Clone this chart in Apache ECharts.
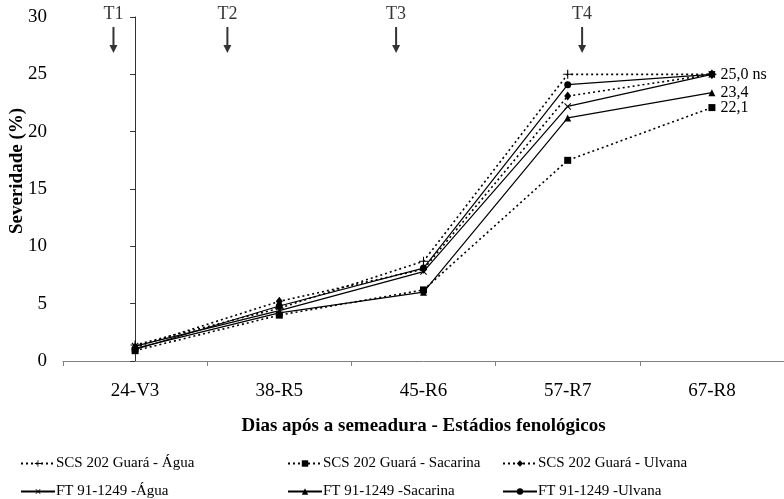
<!DOCTYPE html>
<html>
<head>
<meta charset="utf-8">
<script src="https://cdn.jsdelivr.net/npm/echarts@6/dist/echarts.min.js"></script>
<style>
  html, body { margin: 0; padding: 0; background: #fff; }
  #chart { width: 784px; height: 499px; }
</style>
</head>
<body>
<div id="chart"></div>
<script>
// Categories: days after sowing - phenological stage
const categories = ['24-V3', '38-R5', '45-R6', '57-R7', '67-R8'];

// Severity (%) per treatment
const scsAgua      = [1.4, 4.6, 8.7, 25.0, 25.0];
const scsSacarina  = [0.9, 4.0, 6.2, 17.5, 22.1];
const scsUlvana    = [1.2, 5.2, 8.0, 23.1, 25.0];
const ftAgua       = [1.3, 4.4, 7.8, 22.2, 25.0];
const ftSacarina   = [1.1, 4.2, 6.0, 21.2, 23.4];
const ftUlvana     = [1.0, 4.8, 8.1, 24.1, 25.0];

// Application times, as positions along the category axis
const applications = ['T1', 'T2', 'T3', 'T4'];
const applicationPos = [-0.15, 0.64, 1.81, 3.10];
const arrowLevel = 28;

const yTicks = [0, 5, 10, 15, 20, 25, 30];

const FONT = 'Liberation Serif, Times New Roman, serif';
const plusPath = 'path://M0,4.4 L4.4,4.4 L4.4,0 L5.6,0 L5.6,4.4 L10,4.4 L10,5.6 L5.6,5.6 L5.6,10 L4.4,10 L4.4,5.6 L0,5.6 Z';
const arrowPath = 'path://M3,0 L5,0 L5,18 L8,18 L4,26 L0,18 L3,18 Z';
const dotted = [2, 3];

function fmt(v) { return v.toFixed(1).replace('.', ','); }

function lineSeries(name, data, symbol, size, dashed, rotate, labelSuffix) {
  const s = {
    name: name,
    type: 'line',
    data: data,
    symbol: symbol,
    symbolSize: size,
    symbolRotate: rotate || 0,
    showAllSymbol: true,
    itemStyle: { color: '#000' },
    lineStyle: { color: '#000', width: dashed ? 1.6 : 1.2, type: dashed ? dotted : 'solid' },
    emphasis: { disabled: true },
    z: 3
  };
  if (labelSuffix !== undefined) {
    s.label = {
      show: true,
      position: 'right',
      distance: 5,
      fontFamily: FONT,
      fontSize: 16,
      color: '#000',
      formatter: function (p) {
        return p.dataIndex === data.length - 1 ? fmt(p.value) + labelSuffix : '';
      }
    };
  }
  return s;
}

const seriesDefs = [
  lineSeries('SCS 202 Guará - Água', scsAgua, plusPath, 9, true),
  lineSeries('SCS 202 Guará - Sacarina', scsSacarina, 'rect', 7, true, 0, ''),
  lineSeries('SCS 202 Guará - Ulvana', scsUlvana, 'diamond', [7, 9], true),
  lineSeries('FT 91-1249 -Água', ftAgua, plusPath, 9, false, 45),
  lineSeries('FT 91-1249 -Sacarina', ftSacarina, 'triangle', 7, false, 0, ''),
  lineSeries('FT 91-1249 -Ulvana', ftUlvana, 'circle', 7, false, 0, ' ns')
];

// Arrows marking the application times
seriesDefs.push({
  type: 'scatter',
  xAxisIndex: 1,
  data: applicationPos.map(function (x, i) { return [x, arrowLevel, applications[i]]; }),
  symbol: arrowPath,
  symbolSize: [8, 26],
  itemStyle: { color: '#000' },
  label: {
    show: true,
    position: 'top',
    distance: 4,
    fontFamily: FONT,
    fontSize: 18,
    color: '#000',
    formatter: function (p) { return p.value[2]; }
  },
  emphasis: { disabled: true },
  silent: true,
  z: 5
});

const legendLayout = [
  { left: 20, top: 456 },
  { left: 287, top: 456 },
  { left: 502, top: 456 },
  { left: 20, top: 484 },
  { left: 287, top: 484 },
  { left: 502, top: 484 }
];

const chart = echarts.init(document.getElementById('chart'), null, { renderer: 'canvas' });
chart.setOption({
  animation: false,
  backgroundColor: '#fff',
  textStyle: { fontFamily: FONT },
  grid: { left: 63, right: -2, top: 17, bottom: 138, containLabel: false },
  legend: seriesDefs.slice(0, 6).map(function (s, i) {
    return {
      data: [s.name],
      left: legendLayout[i].left,
      top: legendLayout[i].top,
      itemWidth: 34,
      itemHeight: 8,
      itemGap: 0,
      padding: 0,
      selectedMode: false,
      textStyle: { fontFamily: FONT, fontSize: 15, color: '#000', padding: [0, 0, 0, -4] }
    };
  }),
  xAxis: [{
    type: 'category',
    data: categories,
    boundaryGap: true,
    name: 'Dias após a semeadura - Estádios fenológicos',
    nameLocation: 'middle',
    nameGap: 56,
    nameTextStyle: { fontFamily: FONT, fontSize: 19, fontWeight: 'bold', color: '#000' },
    axisLine: { lineStyle: { color: '#808080', width: 1 } },
    axisTick: { show: true, inside: false, length: 5, lineStyle: { color: '#808080' } },
    axisLabel: { fontFamily: FONT, fontSize: 19, color: '#000', margin: 21 },
    splitLine: { show: false }
  }, {
    type: 'value',
    min: -0.5,
    max: 4.5,
    show: false
  }],
  yAxis: {
    type: 'value',
    min: yTicks[0],
    max: yTicks[yTicks.length - 1],
    interval: 5,
    axisLine: { show: true, lineStyle: { color: '#333', width: 1 } },
    axisTick: { show: true, length: 5, lineStyle: { color: '#333' } },
    axisLabel: { fontFamily: FONT, fontSize: 19, color: '#000', margin: 16 },
    splitLine: { show: false }
  },
  graphic: [{
    type: 'text',
    x: 17,
    y: 171,
    rotation: Math.PI / 2,
    style: {
      text: 'Severidade (%)',
      font: 'bold 19px ' + FONT,
      fill: '#000',
      align: 'center',
      verticalAlign: 'middle'
    }
  }],
  series: seriesDefs
});
</script>
</body>
</html>
